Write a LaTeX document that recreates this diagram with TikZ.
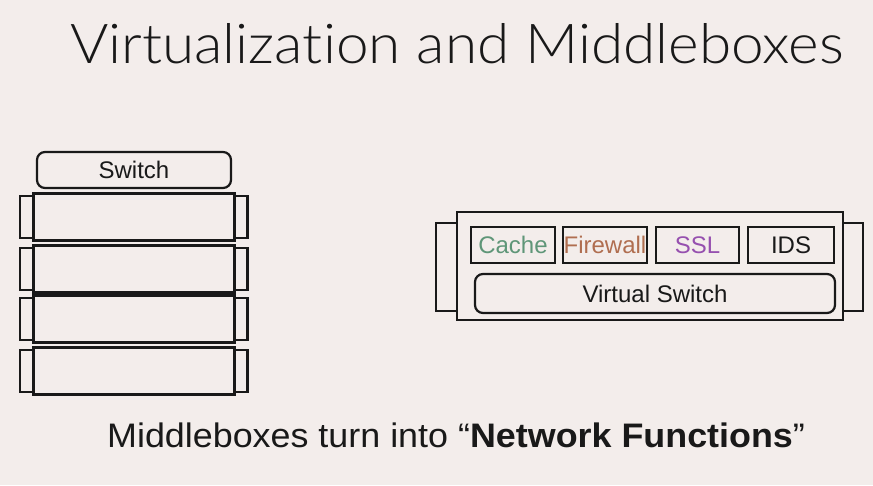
\documentclass[tikz,border=0pt]{standalone}
\usepackage{fontspec}
\setmainfont{Liberation Sans}
\newfontfamily\titlefont[Ligatures={NoCommon,NoRare}]{Lato Light}
\definecolor{bg}{RGB}{243,237,235}
\definecolor{ink}{RGB}{25,25,25}
\definecolor{cachecol}{RGB}{95,150,120}
\definecolor{fwcol}{RGB}{176,110,80}
\definecolor{sslcol}{RGB}{150,80,175}
\begin{document}
\begin{tikzpicture}[x=1pt,y=-1pt,
  box/.style={draw=ink,line width=2.2pt,inner sep=0pt,outer sep=0pt},
  rbox/.style={box,rounded corners=8pt},
  lbl/.style={font=\fontsize{24}{24}\selectfont,text=ink}]
\fill[bg] (0,0) rectangle (873,485);
\useasboundingbox (0,0) rectangle (873,485);

% heading
\node[anchor=base west,inner sep=0pt,text=ink] (title) at (70,63)
  {\scalebox{1.064}[1]{\titlefont\fontsize{55}{55}\selectfont Virtualization and Middleboxes}};

% physical rack: switch on top of four middlebox servers
\node[rbox,minimum width=194pt,minimum height=36pt,lbl] (sw) at (134,170) {Switch};
\foreach \i/\y in {1/217,2/269,3/319,4/371}{
  \node[box,minimum width=14pt,minimum height=42pt] (le\i) at (27,\y) {};
  \node[box,minimum width=13pt,minimum height=42pt] (re\i) at (241,\y) {};
  \node[box,minimum width=202pt,minimum height=47pt] (u\i) at (134,\y) {};
}

% virtualized server
\node[box,minimum width=21pt,minimum height=88pt] (vl) at (446.5,267) {};
\node[box,minimum width=20pt,minimum height=88pt] (vr) at (853,267) {};
\node[box,minimum width=386pt,minimum height=108pt] (srv) at (650,266) {};
\node[box,minimum width=84pt,minimum height=36pt,lbl,text=cachecol] (cache) at (513,245) {Cache};
\node[box,minimum width=84pt,minimum height=36pt,lbl,text=fwcol] (fw) at (605,245) {Firewall};
\node[box,minimum width=83pt,minimum height=36pt,lbl,text=sslcol] (ssl) at (697.5,245) {SSL};
\node[box,minimum width=86pt,minimum height=36pt,lbl] (ids) at (791,245) {IDS};
\node[rbox,minimum width=360pt,minimum height=39pt,lbl] (vsw) at (655,293.5) {Virtual Switch};

% caption
\node[anchor=base west,inner sep=0pt,text=ink] (cap) at (107,447)
  {\scalebox{1.055}[1]{\fontsize{34}{34}\selectfont Middleboxes turn into \textquotedblleft\textbf{Network Functions}\textquotedblright}};
\end{tikzpicture}
\end{document}
